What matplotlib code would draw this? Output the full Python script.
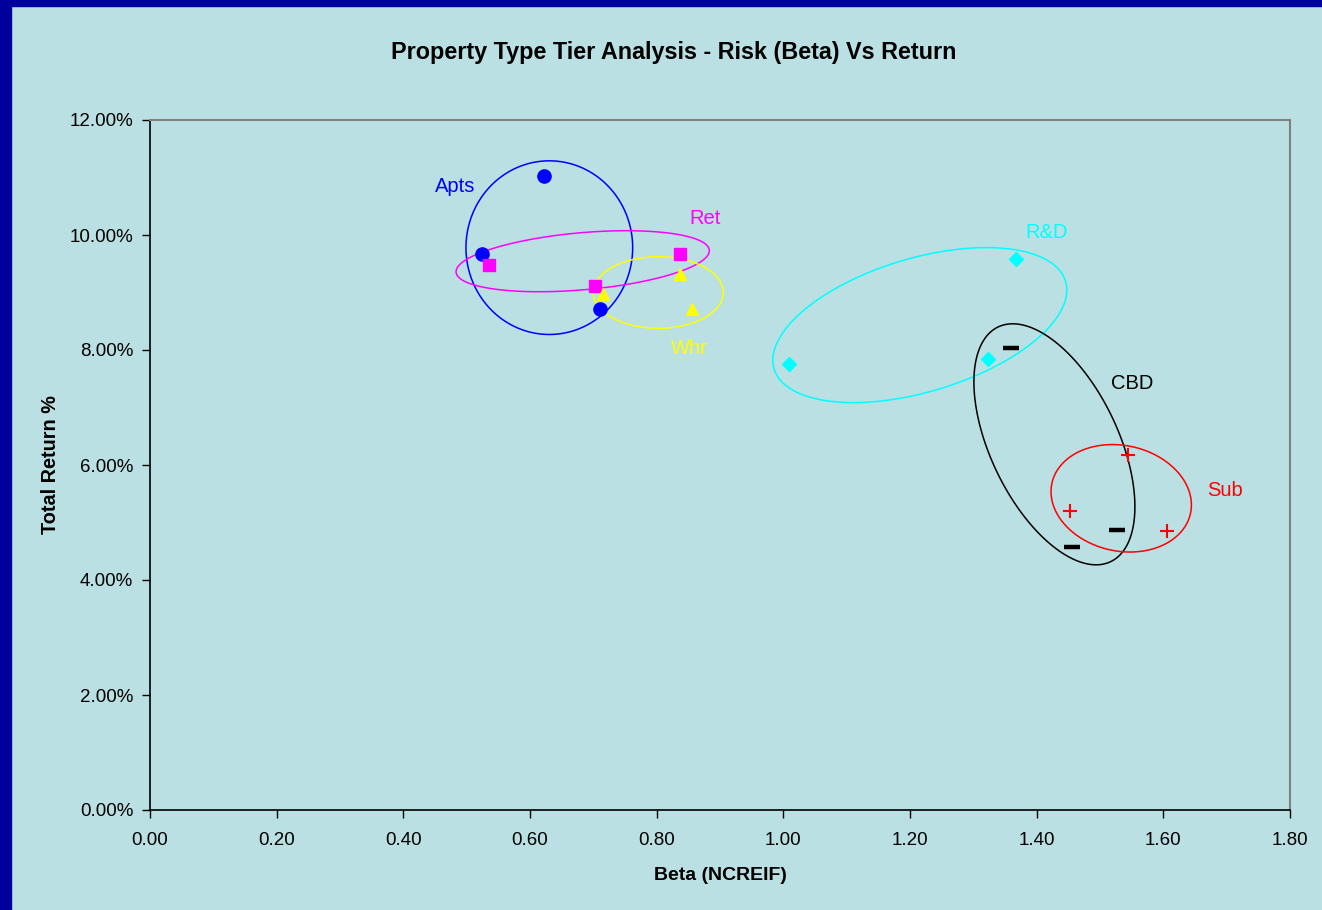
import numpy as np
import matplotlib.pyplot as plt
from matplotlib.patches import Rectangle, Polygon

plt.rcParams['font.family'] = ['Liberation Sans', 'DejaVu Sans']

# Beta (NCREIF) and total return (%) for each property tier
apts_beta = [0.622, 0.524, 0.711]
apts_ret = [11.03, 9.67, 8.71]
ret_beta = [0.535, 0.703, 0.837]
ret_ret = [9.48, 9.11, 9.67]
whr_beta = [0.715, 0.837, 0.856]
whr_ret = [8.97, 9.32, 8.71]
rd_beta = [1.009, 1.323, 1.367]
rd_ret = [7.76, 7.84, 9.58]
cbd_beta = [1.359, 1.456, 1.527]
cbd_ret = [8.03, 4.57, 4.87]
sub_beta = [1.453, 1.544, 1.606]
sub_ret = [5.20, 6.17, 4.85]

# Grouping ellipses: centre, offset to the right-most point, vertical half-axis
ellipses = {
    "Apts": ((0.6305, 9.78), (0.1316, 0.0), 1.510),
    "Ret": ((0.6832, 9.544), (0.1999, 0.1826), 0.498),
    "Whr": ((0.8026, 9.00), (0.1026, 0.0), 0.623),
    "R&D": ((1.2155, 8.433), (0.2321, 0.609), 1.202),
    "CBD": ((1.4280, 6.36), (0.1271, -1.085), 1.793),
    "Sub": ((1.5335, 5.421), (0.1108, -0.1165), 0.927),
}

bg = "#BAE0E3"
fig = plt.figure(figsize=(13.22, 9.10), dpi=100, facecolor=bg)
ax = fig.add_axes([150 / 1322, 100 / 910, 1140 / 1322, 690 / 910])
ax.set_facecolor(bg)

# navy frame along the top and left edges
fig.patches.append(Rectangle((0, 0), 11 / 1322, 1, transform=fig.transFigure,
                             color="#00009C", zorder=0))
fig.patches.append(Rectangle((0, 1 - 6 / 910), 1, 6 / 910, transform=fig.transFigure,
                             color="#00009C", zorder=0))

series = [
    (apts_beta, apts_ret, "#0000FF", "o", 9.5, 1, "Apts"),
    (ret_beta, ret_ret, "#FF00FF", "s", 8.5, 1, "Ret"),
    (whr_beta, whr_ret, "#FFFF00", "^", 9, 1, "Whr"),
    (rd_beta, rd_ret, "#00FFFF", "D", 7.5, 1, "R&D"),
    (cbd_beta, cbd_ret, "#000000", "_", 12, 3.2, "CBD"),
    (sub_beta, sub_ret, "#FF0000", "+", 10, 1.5, "Sub"),
]

t = np.linspace(0, 2 * np.pi, 360, endpoint=False)
for xs, ys, col, mk, ms, mew, name in series:
    ax.plot(xs, ys, linestyle="none", marker=mk, markersize=ms,
            markerfacecolor=col, markeredgecolor=col, markeredgewidth=mew, zorder=3)
    (cx, cy), (ux, uy), vy = ellipses[name]
    pts = np.column_stack([cx + ux * np.cos(t), cy + uy * np.cos(t) + vy * np.sin(t)])
    ax.add_patch(Polygon(pts, closed=True, fill=False, edgecolor=col, lw=1.1, zorder=2))

# tier labels
labels = [
    ("Apts", 0.482, 10.85, "#0000FF"),
    ("Ret", 0.876, 10.28, "#FF00FF"),
    ("Whr", 0.851, 8.02, "#FFFF00"),
    ("R&D", 1.415, 10.05, "#00FFFF"),
    ("CBD", 1.551, 7.41, "#000000"),
    ("Sub", 1.697, 5.55, "#FF0000"),
]
for txt, x, y, col in labels:
    ax.text(x, y, txt, color=col, fontsize=14.5, ha="center", va="center")

ax.set_xlim(0, 1.8)
ax.set_ylim(0, 12)
ax.set_xticks(np.arange(0, 1.81, 0.2))
ax.set_xticklabels([f"{v:.2f}" for v in np.arange(0, 1.81, 0.2)])
ax.set_yticks(np.arange(0, 12.1, 2))
ax.set_yticklabels([f"{v:.2f}%" for v in np.arange(0, 12.1, 2)])
ax.tick_params(labelsize=13.5, length=6, width=1, direction="out", colors="black")
ax.tick_params(axis="x", pad=10)
ax.tick_params(axis="y", pad=6)

for side in ["top", "right"]:
    ax.spines[side].set_color("#808080")
    ax.spines[side].set_linewidth(1.5)
for side in ["left", "bottom"]:
    ax.spines[side].set_color("black")
    ax.spines[side].set_linewidth(1.2)

ax.set_xlabel("Beta (NCREIF)", fontsize=14, fontweight="bold", labelpad=13)
ax.set_ylabel("Total Return %", fontsize=14.3, fontweight="bold", labelpad=7)
fig.text(674 / 1322, 1 - 52 / 910, "Property Type Tier Analysis - Risk (Beta) Vs Return",
         fontsize=16.8, fontweight="bold", ha="center", va="center")

fig.savefig("out.png", dpi=100, facecolor=bg)
